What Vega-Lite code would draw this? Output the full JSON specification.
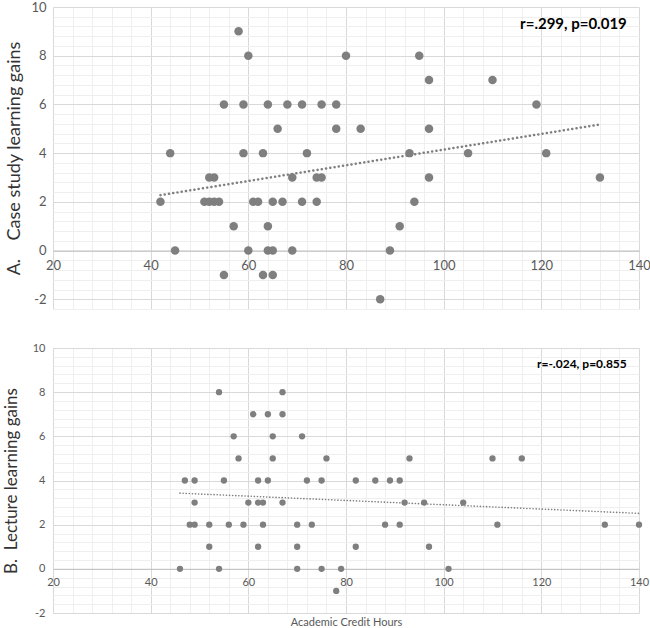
{
  "$schema": "https://vega.github.io/schema/vega-lite/v6.json",
  "padding": {"left": 2, "top": 1, "right": 0, "bottom": 0},
  "config": {
    "view": {"stroke": null},
    "font": "Lato",
    "axis": {"ticks": false, "tickCount": 1000, "labelOverlap": false, "labelFlush": false, "labelColor": "#595959", "titleFontWeight": "normal"}
  },
  "datasets": {
    "a": [
      {"credit": 58, "gain": 9},
      {"credit": 60, "gain": 8}, {"credit": 80, "gain": 8}, {"credit": 95, "gain": 8},
      {"credit": 97, "gain": 7}, {"credit": 110, "gain": 7},
      {"credit": 55, "gain": 6}, {"credit": 59, "gain": 6}, {"credit": 64, "gain": 6}, {"credit": 68, "gain": 6}, {"credit": 71, "gain": 6}, {"credit": 75, "gain": 6}, {"credit": 78, "gain": 6}, {"credit": 119, "gain": 6},
      {"credit": 66, "gain": 5}, {"credit": 78, "gain": 5}, {"credit": 83, "gain": 5}, {"credit": 97, "gain": 5},
      {"credit": 44, "gain": 4}, {"credit": 59, "gain": 4}, {"credit": 63, "gain": 4}, {"credit": 72, "gain": 4}, {"credit": 93, "gain": 4}, {"credit": 105, "gain": 4}, {"credit": 121, "gain": 4},
      {"credit": 52, "gain": 3}, {"credit": 53, "gain": 3}, {"credit": 69, "gain": 3}, {"credit": 74, "gain": 3}, {"credit": 75, "gain": 3}, {"credit": 97, "gain": 3}, {"credit": 132, "gain": 3},
      {"credit": 42, "gain": 2}, {"credit": 51, "gain": 2}, {"credit": 52, "gain": 2}, {"credit": 53, "gain": 2}, {"credit": 54, "gain": 2}, {"credit": 61, "gain": 2}, {"credit": 62, "gain": 2}, {"credit": 65, "gain": 2}, {"credit": 67, "gain": 2}, {"credit": 71, "gain": 2}, {"credit": 74, "gain": 2}, {"credit": 94, "gain": 2},
      {"credit": 57, "gain": 1}, {"credit": 64, "gain": 1}, {"credit": 91, "gain": 1},
      {"credit": 45, "gain": 0}, {"credit": 60, "gain": 0}, {"credit": 64, "gain": 0}, {"credit": 65, "gain": 0}, {"credit": 69, "gain": 0}, {"credit": 89, "gain": 0},
      {"credit": 55, "gain": -1}, {"credit": 63, "gain": -1}, {"credit": 65, "gain": -1},
      {"credit": 87, "gain": -2}
    ],
    "b": [
      {"credit": 54, "gain": 8}, {"credit": 67, "gain": 8},
      {"credit": 61, "gain": 7}, {"credit": 64, "gain": 7}, {"credit": 67, "gain": 7},
      {"credit": 57, "gain": 6}, {"credit": 65, "gain": 6}, {"credit": 71, "gain": 6},
      {"credit": 58, "gain": 5}, {"credit": 65, "gain": 5}, {"credit": 76, "gain": 5}, {"credit": 93, "gain": 5}, {"credit": 110, "gain": 5}, {"credit": 116, "gain": 5},
      {"credit": 47, "gain": 4}, {"credit": 49, "gain": 4}, {"credit": 55, "gain": 4}, {"credit": 62, "gain": 4}, {"credit": 64, "gain": 4}, {"credit": 72, "gain": 4}, {"credit": 75, "gain": 4}, {"credit": 82, "gain": 4}, {"credit": 86, "gain": 4}, {"credit": 89, "gain": 4}, {"credit": 91, "gain": 4},
      {"credit": 49, "gain": 3}, {"credit": 60, "gain": 3}, {"credit": 62, "gain": 3}, {"credit": 63, "gain": 3}, {"credit": 67, "gain": 3}, {"credit": 92, "gain": 3}, {"credit": 96, "gain": 3}, {"credit": 104, "gain": 3},
      {"credit": 48, "gain": 2}, {"credit": 49, "gain": 2}, {"credit": 52, "gain": 2}, {"credit": 56, "gain": 2}, {"credit": 59, "gain": 2}, {"credit": 63, "gain": 2}, {"credit": 70, "gain": 2}, {"credit": 73, "gain": 2}, {"credit": 88, "gain": 2}, {"credit": 91, "gain": 2}, {"credit": 111, "gain": 2}, {"credit": 133, "gain": 2}, {"credit": 140, "gain": 2},
      {"credit": 52, "gain": 1}, {"credit": 62, "gain": 1}, {"credit": 70, "gain": 1}, {"credit": 82, "gain": 1}, {"credit": 97, "gain": 1},
      {"credit": 46, "gain": 0}, {"credit": 54, "gain": 0}, {"credit": 70, "gain": 0}, {"credit": 75, "gain": 0}, {"credit": 79, "gain": 0}, {"credit": 101, "gain": 0},
      {"credit": 78, "gain": -1}
    ]
  },
  "spacing": 26,
  "vconcat": [
    {
      "width": 586,
      "height": 302,
      "layer": [
        {
          "data": {"name": "a"},
          "mark": {"type": "circle", "size": 72, "color": "#7f7f7f", "opacity": 1},
          "encoding": {
            "x": {
              "field": "credit", "type": "quantitative",
              "scale": {"domain": [20, 140], "nice": false, "zero": false},
              "axis": {
                "title": null,
                "tickCount": 1000,
                "values": [20,24,28,32,36,40,44,48,52,56,60,64,68,72,76,80,84,88,92,96,100,104,108,112,116,120,124,128,132,136,140],
                "labelExpr": "datum.value % 20 === 0 ? '' + datum.value : ''",
                "offset": -58.5,
                "labelPadding": 9,
                "labelFontSize": 13,
                "domainColor": "#bfbfbf",
                "gridColor": {"condition": {"test": "datum.value % 20 === 0", "value": "#d9d9d9"}, "value": "#efefef"}
              }
            },
            "y": {
              "field": "gain", "type": "quantitative",
              "scale": {"domain": [-2.4, 10], "nice": false, "zero": false},
              "axis": {
                "title": "A.\u00a0\u00a0\u00a0 Case study learning gains",
                "titleFontSize": 18,
                "titleColor": "#333333",
                "titlePadding": 7,
                "tickCount": 1000,
                "values": [-2.4,-2,-1.6,-1.2,-0.8,-0.4,0,0.4,0.8,1.2,1.6,2,2.4,2.8,3.2,3.6,4,4.4,4.8,5.2,5.6,6,6.4,6.8,7.2,7.6,8,8.4,8.8,9.2,9.6,10],
                "labelExpr": "abs(datum.value % 2) < 0.001 ? '' + datum.value : ''",
                "labelPadding": 7,
                "labelFontSize": 13,
                "domain": false,
                "gridColor": {"condition": {"test": "abs(datum.value % 2) < 0.001", "value": "#d9d9d9"}, "value": "#efefef"}
              }
            }
          }
        },
        {
          "data": {"name": "a"},
          "transform": [{"regression": "gain", "on": "credit"}],
          "mark": {"type": "line", "color": "#7f7f7f", "strokeWidth": 2.5, "strokeDash": [0.1, 4.2], "strokeCap": "round"},
          "encoding": {
            "x": {"field": "credit", "type": "quantitative"},
            "y": {"field": "gain", "type": "quantitative"}
          }
        },
        {
          "data": {"values": [{"label": "r=.299, p=0.019"}]},
          "mark": {"type": "text", "align": "right", "baseline": "middle", "fontWeight": "bold", "fontSize": 15, "color": "#000000"},
          "encoding": {
            "text": {"field": "label"},
            "x": {"datum": 137.5, "type": "quantitative"},
            "y": {"datum": 9.3, "type": "quantitative"}
          }
        }
      ]
    },
    {
      "width": 586,
      "height": 265,
      "layer": [
        {
          "data": {"name": "b"},
          "mark": {"type": "circle", "size": 40, "color": "#7f7f7f", "opacity": 1},
          "encoding": {
            "x": {
              "field": "credit", "type": "quantitative",
              "scale": {"domain": [20, 140], "nice": false, "zero": false},
              "axis": {
                "title": "Academic Credit Hours",
                "titleFontSize": 11,
                "titleColor": "#595959",
                "titlePadding": 29,
                "tickCount": 1000,
                "values": [20,24,28,32,36,40,44,48,52,56,60,64,68,72,76,80,84,88,92,96,100,104,108,112,116,120,124,128,132,136,140],
                "labelExpr": "datum.value % 20 === 0 ? '' + datum.value : ''",
                "offset": -44.2,
                "labelPadding": 8,
                "labelFontSize": 11,
                "domainColor": "#bfbfbf",
                "gridColor": {"condition": {"test": "datum.value % 20 === 0", "value": "#d9d9d9"}, "value": "#efefef"}
              }
            },
            "y": {
              "field": "gain", "type": "quantitative",
              "scale": {"domain": [-2, 10], "nice": false, "zero": false},
              "axis": {
                "title": "B.\u00a0\u00a0Lecture learning gains",
                "titleFontSize": 17,
                "titleColor": "#333333",
                "titlePadding": 12,
                "tickCount": 1000,
                "values": [-2,-1.6,-1.2,-0.8,-0.4,0,0.4,0.8,1.2,1.6,2,2.4,2.8,3.2,3.6,4,4.4,4.8,5.2,5.6,6,6.4,6.8,7.2,7.6,8,8.4,8.8,9.2,9.6,10],
                "labelExpr": "abs(datum.value % 2) < 0.001 ? '' + datum.value : ''",
                "labelPadding": 8,
                "labelFontSize": 11,
                "domain": false,
                "gridColor": {"condition": {"test": "abs(datum.value % 2) < 0.001", "value": "#d9d9d9"}, "value": "#efefef"}
              }
            }
          }
        },
        {
          "data": {"name": "b"},
          "transform": [{"regression": "gain", "on": "credit"}],
          "mark": {"type": "line", "color": "#7f7f7f", "strokeWidth": 1.6, "strokeDash": [0.1, 3], "strokeCap": "round"},
          "encoding": {
            "x": {"field": "credit", "type": "quantitative"},
            "y": {"field": "gain", "type": "quantitative"}
          }
        },
        {
          "data": {"values": [{"label": "r=-.024, p=0.855"}]},
          "mark": {"type": "text", "align": "right", "baseline": "middle", "fontWeight": "bold", "fontSize": 12, "color": "#000000"},
          "encoding": {
            "text": {"field": "label"},
            "x": {"datum": 137.5, "type": "quantitative"},
            "y": {"datum": 9.28, "type": "quantitative"}
          }
        }
      ]
    }
  ]
}
